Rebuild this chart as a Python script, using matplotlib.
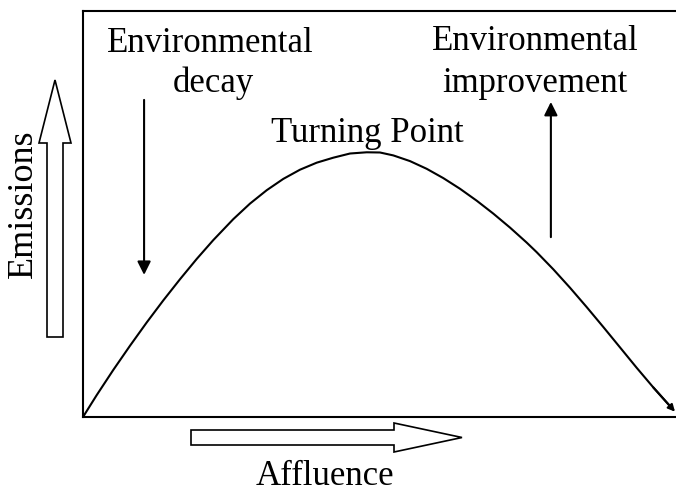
import matplotlib.pyplot as plt
from matplotlib.patches import FancyArrow
from matplotlib.transforms import IdentityTransform

# Curva di Kuznets ambientale (scala 0-100)
affluence = [0, 2.31, 5.11, 7.93, 10.74, 13.54, 16.36, 19.17, 21.97, 25.35,
             28.16, 30.98, 33.78, 36.59, 39.41, 42.21, 45.03, 47.84, 50.08, 52.33,
             55.14, 57.96, 60.76, 63.58, 66.39, 69.19, 72.01, 74.82, 76.51, 79.31,
             82.12, 84.94, 87.74, 90.56, 93.37, 96.17, 98.99, 99.83]
emissions = [0, 5.39, 11.60, 17.56, 23.28, 28.72, 33.94, 38.92, 43.57, 48.74,
             52.56, 55.86, 58.65, 60.91, 62.64, 63.87, 64.90, 65.20, 65.15, 64.43,
             63.03, 61.13, 58.84, 56.21, 53.28, 50.10, 46.65, 42.96, 40.59, 36.38,
             31.85, 27.07, 22.17, 17.14, 12.12, 7.29, 2.68, 1.31]

label_x = "Affluence"
label_y = "Emissions"
label_left = ["Environmental", "decay"]
label_right = ["Environmental", "improvement"]
label_peak = "Turning Point"

plt.rcParams['font.family'] = ['Liberation Serif', 'DejaVu Serif']

W, H = 676, 493
fig = plt.figure(figsize=(W / 100, H / 100), dpi=100)
ax = fig.add_axes([83 / W, (H - 417) / H, (W - 83) / W, (417 - 11) / H])
ax.set_xlim(0, 100)
ax.set_ylim(0, 100)
ax.set_xticks([])
ax.set_yticks([])
ax.spines['right'].set_visible(False)
for s in ['left', 'top', 'bottom']:
    ax.spines[s].set_linewidth(1.5)

# curva
ax.plot(affluence[:-1], emissions[:-1], color='black', lw=1.5,
        solid_joinstyle='round', solid_capstyle='butt')
ax.annotate('', xy=(affluence[-1], emissions[-1]), xytext=(affluence[-3], emissions[-3]),
            arrowprops=dict(arrowstyle='-|>', color='black', lw=1.5, mutation_scale=10,
                            shrinkA=0, shrinkB=0), annotation_clip=False)

# frecce interne
ax.annotate('', xy=(10.3, 35.0), xytext=(10.3, 78.1),
            arrowprops=dict(arrowstyle='-|>', color='black', lw=1.5, mutation_scale=20,
                            shrinkA=0, shrinkB=0))
ax.annotate('', xy=(78.9, 77.6), xytext=(78.9, 44.3),
            arrowprops=dict(arrowstyle='-|>', color='black', lw=1.5, mutation_scale=20,
                            shrinkA=0, shrinkB=0))

# frecce vuote degli assi (coordinate in pixel)
tr = IdentityTransform()
fig.patches.append(FancyArrow(55, H - 337, 0, 337 - 80, width=16, head_width=32,
                              head_length=63, length_includes_head=True,
                              fc='white', ec='black', lw=1.2, transform=tr, figure=fig))
fig.patches.append(FancyArrow(191, H - 437.5, 462 - 191, 0, width=15, head_width=29,
                              head_length=68, length_includes_head=True,
                              fc='white', ec='black', lw=1.2, transform=tr, figure=fig))

fs = 25
fig.text(210 / W, 1 - 52 / H, label_left[0], ha='center', va='baseline', fontsize=fs)
fig.text(213 / W, 1 - 92 / H, label_left[1], ha='center', va='baseline', fontsize=fs)
fig.text(535 / W, 1 - 50 / H, label_right[0], ha='center', va='baseline', fontsize=fs)
fig.text(535 / W, 1 - 92 / H, label_right[1], ha='center', va='baseline', fontsize=fs)
fig.text(367 / W, 1 - 142 / H, label_peak, ha='center', va='baseline', fontsize=fs)
fig.text(325 / W, 1 - 485 / H, label_x, ha='center', va='baseline', fontsize=fs)
fig.text(23 / W, 1 - 204 / H, label_y, ha='center', va='center', rotation=90, fontsize=26)

fig.savefig('out.png', dpi=100)
